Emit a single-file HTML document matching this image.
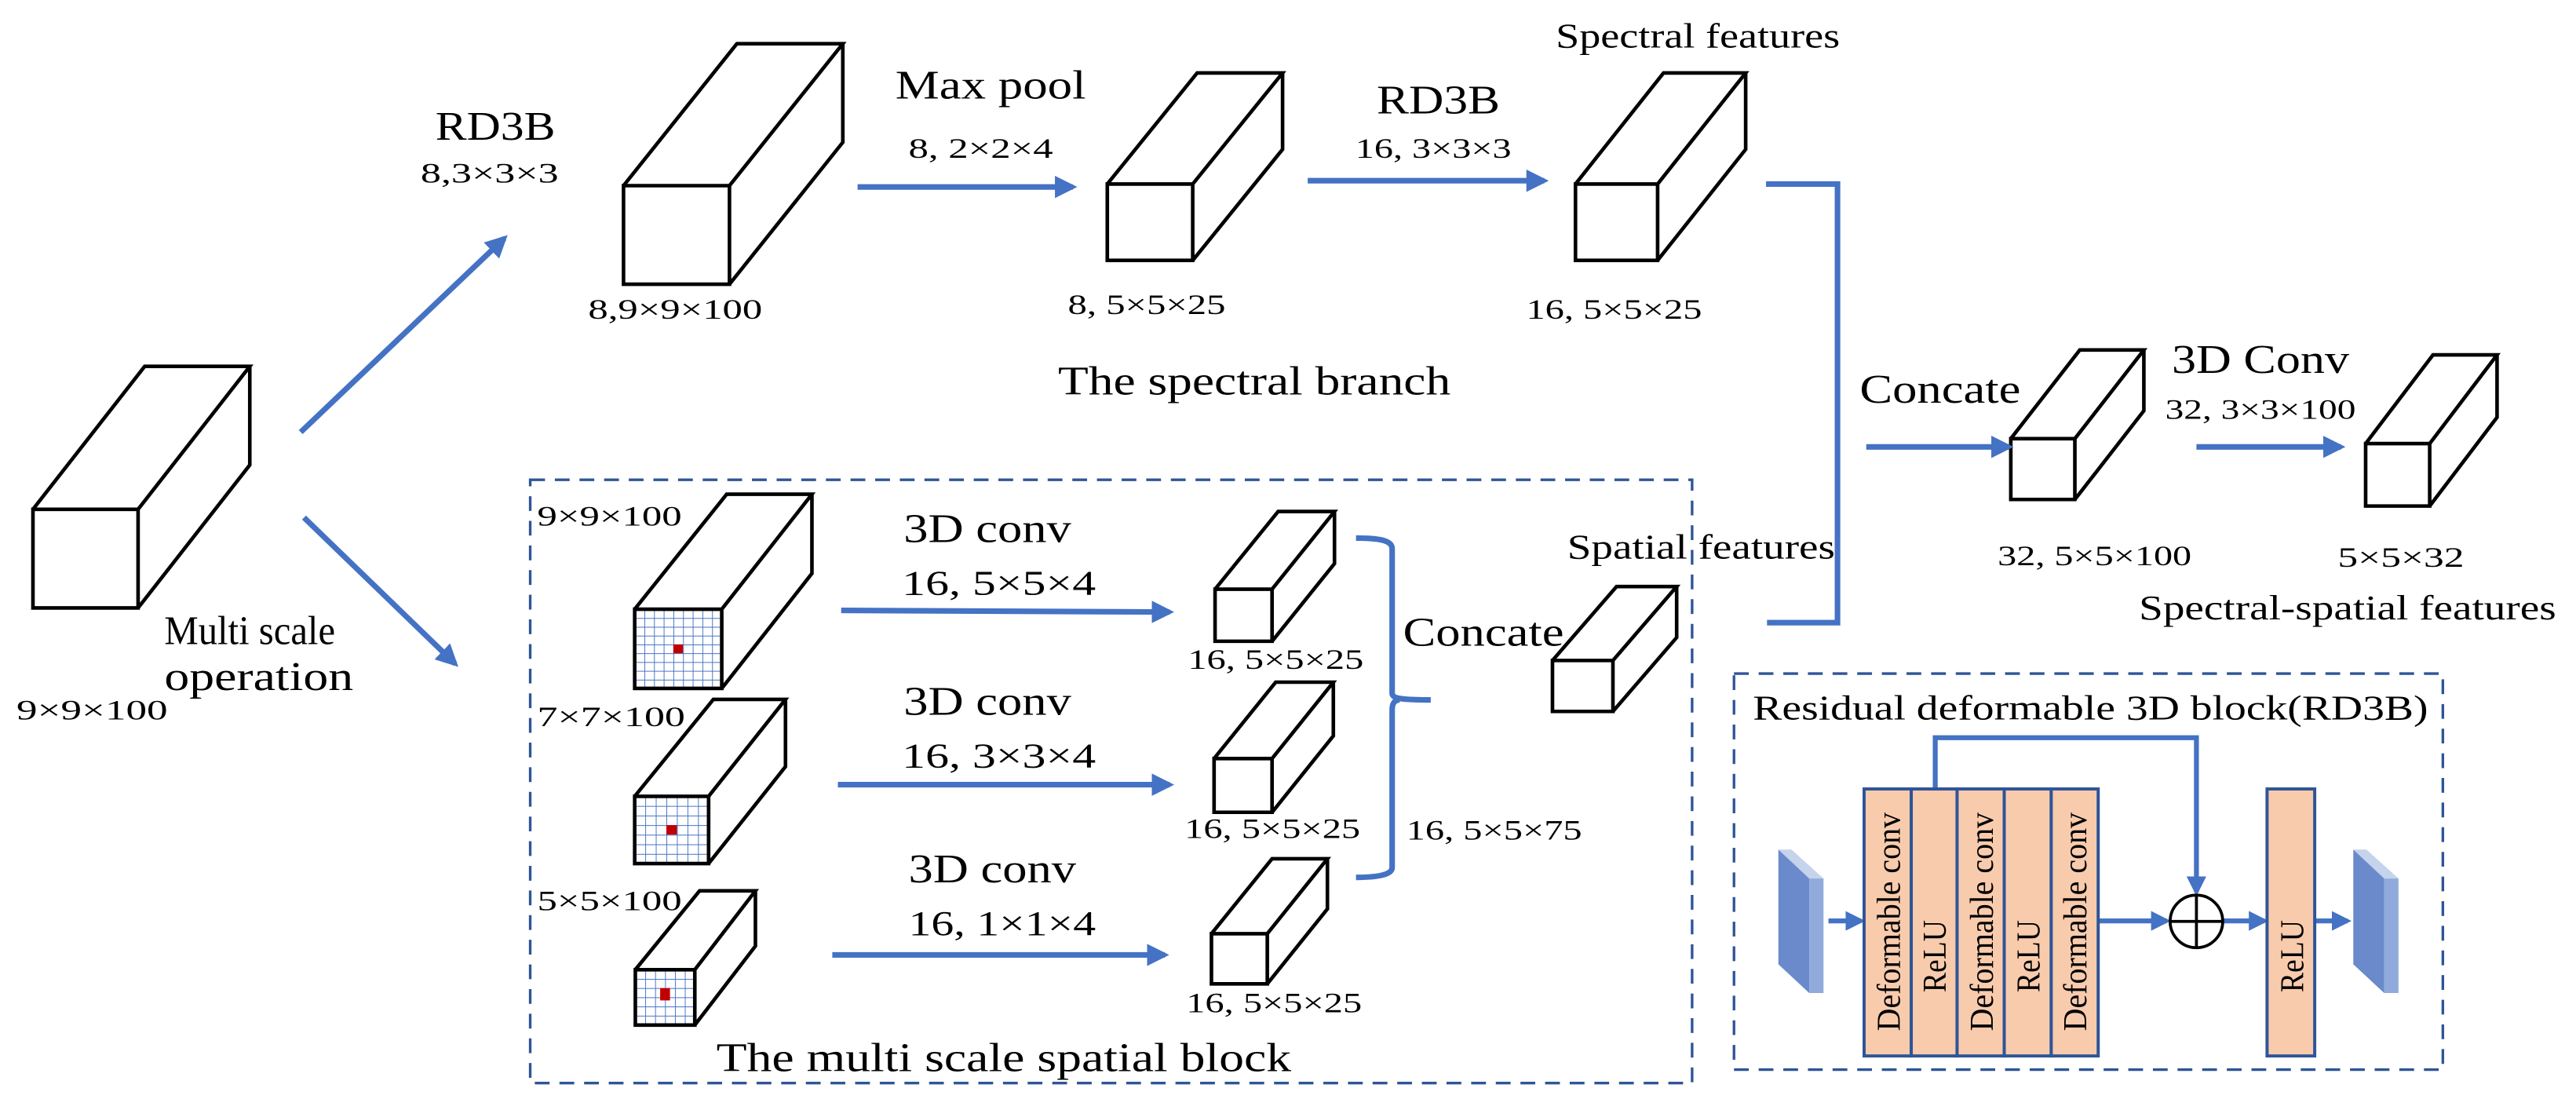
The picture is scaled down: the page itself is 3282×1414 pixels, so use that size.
<!DOCTYPE html>
<html><head><meta charset="utf-8"><style>
html,body{margin:0;padding:0;background:#fff;width:3282px;height:1414px;overflow:hidden}
svg{display:block}
svg text{font-family:"Liberation Serif","DejaVu Serif","Times New Roman",serif;fill:#000}
</style></head><body>
<svg width="3282" height="1414" viewBox="0 0 1568 675.6" xmlns="http://www.w3.org/2000/svg" font-family="Liberation Serif, DejaVu Serif, serif">
<defs>
<marker id="ah" viewBox="0 0 10 10" refX="8" refY="5" markerWidth="4" markerHeight="4" orient="auto" markerUnits="strokeWidth">
<path d="M0,0 L10,5 L0,10 Z" fill="#4472C4"/></marker>
<pattern id="g9" x="386.3" y="370.8" width="5.89" height="5.36" patternUnits="userSpaceOnUse"><path d="M0,0 V5.36 M0,0 H5.89" stroke="#4472C4" stroke-width="0.9" fill="none"/></pattern>
<pattern id="g7" x="386.3" y="484.7" width="6.43" height="5.84" patternUnits="userSpaceOnUse"><path d="M0,0 V5.84 M0,0 H6.43" stroke="#4472C4" stroke-width="0.9" fill="none"/></pattern>
<pattern id="g5" x="386.7" y="590.2" width="6.03" height="5.6" patternUnits="userSpaceOnUse"><path d="M0,0 V5.6 M0,0 H6.03" stroke="#4472C4" stroke-width="0.9" fill="none"/></pattern>
</defs>

<g fill="none" stroke="#000" stroke-width="2.2" stroke-linejoin="miter">
<path d="M20,310H84V370H20Z M20,310L88,223H152L84,310 M152,223V283L84,370"/>
<path d="M379.5,113H444V173H379.5Z M379.5,113L448.5,26.6H513L444,113 M513,26.6V86.6L444,173"/>
<path d="M674,112H726V158.5H674Z M674,112L728.7,44.4H780.7L726,112 M780.7,44.4V90.9L726,158.5"/>
<path d="M959,112H1009V158.5H959Z M959,112L1012.6,44.4H1062.6L1009,112 M1062.6,44.4V90.9L1009,158.5"/>
<path d="M945,402H981.8V433H945Z M945,402L984,357H1020.6L981.8,402 M1020.6,357V388L981.8,433"/>
<path d="M1224,267H1263V304H1224Z M1224,267L1266,213H1305L1263,267 M1305,213V250L1263,304"/>
<path d="M1440,270H1479V308H1440Z M1440,270L1481,216H1520L1479,270 M1520,216V254L1479,308"/>
<path d="M739.6,358.6H774.3V390.3H739.6Z M739.6,358.6L778,311.3H812.3L774.3,358.6 M812.3,311.3V343L774.3,390.3"/>
<path d="M739,461.7H774.3V494.4H739Z M739,461.7L776.5,415.2H811.6L774.3,461.7 M811.6,415.2V447.9L774.3,494.4"/>
<path d="M737.4,568.3H771.4V598.8H737.4Z M737.4,568.3L774.3,522.7H808L771.4,568.3 M808,522.7V553.2L771.4,598.8"/>
</g>
<rect x="386.3" y="370.8" width="53" height="48.2" fill="url(#g9)"/>
<rect x="409.8" y="392.2" width="5.9" height="5.4" fill="#c00000"/>
<rect x="386.3" y="484.7" width="45" height="40.9" fill="url(#g7)"/>
<rect x="405.6" y="502.2" width="6.4" height="5.8" fill="#c00000"/>
<rect x="386.7" y="590.2" width="36.2" height="33.7" fill="url(#g5)"/>
<rect x="401.8" y="601.4" width="6" height="7.5" fill="#c00000"/>
<g fill="none" stroke="#000" stroke-width="2.2">
<path d="M386.3,370.8H439.3V419H386.3Z M386.3,370.8L442.3,300.8H494.2L439.3,370.8 M494.2,300.8V349L439.3,419"/>
<path d="M386.3,484.7H431.3V525.6H386.3Z M386.3,484.7L434.2,425.7H478.1L431.3,484.7 M478.1,425.7V466.6L431.3,525.6"/>
<path d="M386.7,590.2H422.9V623.9H386.7Z M386.7,590.2L425.8,542.2H459.8L422.9,590.2 M459.8,542.2V575.8L422.9,623.9"/>
</g>

<rect x="322.7" y="292" width="707.3" height="367.2" fill="none" stroke="#2f5597" stroke-width="1.6" stroke-dasharray="9,6"/>
<rect x="1055.5" y="410" width="431.5" height="241" fill="none" stroke="#2f5597" stroke-width="1.6" stroke-dasharray="9,6"/>

<g stroke="#4472C4" stroke-width="3.4" fill="none" marker-end="url(#ah)">
<line x1="183" y1="263" x2="307" y2="145"/>
<line x1="185" y1="315" x2="277" y2="404"/>
<line x1="522" y1="113.8" x2="653" y2="113.8"/>
<line x1="796" y1="110" x2="940" y2="110"/>
<line x1="512" y1="371.5" x2="712" y2="372.5"/>
<line x1="510" y1="477.6" x2="712" y2="477.6"/>
<line x1="506.6" y1="581.2" x2="709" y2="581.2"/>
<line x1="1136" y1="272" x2="1223" y2="272"/>
<line x1="1337" y1="272" x2="1425" y2="272"/>
<line x1="1113" y1="560.5" x2="1133" y2="560.5" stroke-width="3"/>
<line x1="1277" y1="560.5" x2="1319" y2="560.5" stroke-width="3"/>
<line x1="1353.5" y1="560.5" x2="1378.5" y2="560.5" stroke-width="3"/>
<line x1="1409" y1="560.5" x2="1429" y2="560.5" stroke-width="3"/>
<path d="M1178,480V449H1337V543" stroke-width="3"/>
</g>
<g stroke="#4472C4" stroke-width="3.4" fill="none">
<path d="M1075,112H1118.5V379H1075.6"/>
<path d="M825.4,327.5C840,327.5 847.4,329 847.4,334V422C847.4,425 852,426 870.9,426 M852,426C849,426 847.4,428 847.4,432V528C847.4,532 840,534 825.4,534"/>
</g>

<g stroke="#2f5597" stroke-width="1.9" fill="#f8cbad">
<rect x="1134.7" y="480.2" width="28.7" height="162.5"/>
<rect x="1163.4" y="480.2" width="27.9" height="162.5"/>
<rect x="1191.3" y="480.2" width="28.7" height="162.5"/>
<rect x="1220" y="480.2" width="28.6" height="162.5"/>
<rect x="1248.6" y="480.2" width="28.6" height="162.5"/>
<rect x="1380" y="480.2" width="29" height="162.5"/>
</g>
<circle cx="1337" cy="560.8" r="16" fill="none" stroke="#000" stroke-width="1.8"/>
<path d="M1321,560.8H1353M1337,544.8V576.8" stroke="#000" stroke-width="1.8"/>
<polygon points="1082.5,517.1 1090.5,517.1 1110,534.7 1101.3,534.7" fill="#c5d3ec"/>
<polygon points="1082.5,517.1 1101.3,534.7 1101.3,604.4 1082.5,586.9" fill="#6a8acb"/>
<rect x="1101.3" y="534.7" width="8.7" height="69.7" fill="#90aadb"/>
<polygon points="1432.5,517.1 1440.5,517.1 1460,534.7 1451.3,534.7" fill="#c5d3ec"/>
<polygon points="1432.5,517.1 1451.3,534.7 1451.3,604.4 1432.5,586.9" fill="#6a8acb"/>
<rect x="1451.3" y="534.7" width="8.7" height="69.7" fill="#90aadb"/>

<g font-size="20" font-family="Liberation Serif, DejaVu Serif, serif">
<text transform="translate(1156.5,627.5) rotate(-90)" textLength="133" lengthAdjust="spacingAndGlyphs">Deformable conv</text>
<text transform="translate(1184.5,604) rotate(-90)" textLength="44" lengthAdjust="spacingAndGlyphs">ReLU</text>
<text transform="translate(1213,627.5) rotate(-90)" textLength="133" lengthAdjust="spacingAndGlyphs">Deformable conv</text>
<text transform="translate(1241.5,604) rotate(-90)" textLength="44" lengthAdjust="spacingAndGlyphs">ReLU</text>
<text transform="translate(1270,627.5) rotate(-90)" textLength="133" lengthAdjust="spacingAndGlyphs">Deformable conv</text>
<text transform="translate(1402,604) rotate(-90)" textLength="44" lengthAdjust="spacingAndGlyphs">ReLU</text>
</g>

<g font-size="25" font-family="Liberation Serif, DejaVu Serif, serif">
<text x="100" y="392" textLength="104" lengthAdjust="spacingAndGlyphs">Multi scale</text>
<text x="100" y="420" textLength="115" lengthAdjust="spacingAndGlyphs">operation</text>
<text x="265" y="85" textLength="73" lengthAdjust="spacingAndGlyphs">RD3B</text>
<text x="545" y="60" textLength="116" lengthAdjust="spacingAndGlyphs">Max pool</text>
<text x="838" y="69" textLength="75" lengthAdjust="spacingAndGlyphs">RD3B</text>
<text x="644" y="240" textLength="239" lengthAdjust="spacingAndGlyphs">The spectral branch</text>
<text x="550" y="330" textLength="102" lengthAdjust="spacingAndGlyphs">3D conv</text>
<text x="550" y="435" textLength="102" lengthAdjust="spacingAndGlyphs">3D conv</text>
<text x="553" y="537" textLength="102" lengthAdjust="spacingAndGlyphs">3D conv</text>
<text x="854" y="393" textLength="98" lengthAdjust="spacingAndGlyphs">Concate</text>
<text x="1132" y="245" textLength="98" lengthAdjust="spacingAndGlyphs">Concate</text>
<text x="1322" y="227" textLength="108" lengthAdjust="spacingAndGlyphs">3D Conv</text>
<text x="436" y="652" textLength="350" lengthAdjust="spacingAndGlyphs">The multi scale spatial block</text>
</g>
<g font-size="21" font-family="Liberation Serif, DejaVu Serif, serif">
<text x="549" y="362" textLength="118" lengthAdjust="spacingAndGlyphs">16, 5×5×4</text>
<text x="549" y="467" textLength="118" lengthAdjust="spacingAndGlyphs">16, 3×3×4</text>
<text x="553" y="569" textLength="114" lengthAdjust="spacingAndGlyphs">16, 1×1×4</text>
<text x="947" y="29" textLength="173" lengthAdjust="spacingAndGlyphs">Spectral features</text>
<text x="954" y="340" textLength="163" lengthAdjust="spacingAndGlyphs">Spatial features</text>
<text x="1302" y="377" textLength="254" lengthAdjust="spacingAndGlyphs">Spectral-spatial features</text>
<text x="1067" y="438" textLength="411" lengthAdjust="spacingAndGlyphs">Residual deformable 3D block(RD3B)</text>
</g>
<g font-size="17" font-family="Liberation Serif, DejaVu Serif, serif">
<text x="10" y="438" textLength="92" lengthAdjust="spacingAndGlyphs">9×9×100</text>
<text x="256" y="111" textLength="84" lengthAdjust="spacingAndGlyphs">8,3×3×3</text>
<text x="358" y="194" textLength="106" lengthAdjust="spacingAndGlyphs">8,9×9×100</text>
<text x="553" y="96" textLength="88" lengthAdjust="spacingAndGlyphs">8, 2×2×4</text>
<text x="650" y="191" textLength="96" lengthAdjust="spacingAndGlyphs">8, 5×5×25</text>
<text x="825" y="96" textLength="95" lengthAdjust="spacingAndGlyphs">16, 3×3×3</text>
<text x="929" y="194" textLength="107" lengthAdjust="spacingAndGlyphs">16, 5×5×25</text>
<text x="327" y="320" textLength="88" lengthAdjust="spacingAndGlyphs">9×9×100</text>
<text x="327" y="442" textLength="90" lengthAdjust="spacingAndGlyphs">7×7×100</text>
<text x="327" y="554" textLength="88" lengthAdjust="spacingAndGlyphs">5×5×100</text>
<text x="723" y="407" textLength="107" lengthAdjust="spacingAndGlyphs">16, 5×5×25</text>
<text x="721" y="510" textLength="107" lengthAdjust="spacingAndGlyphs">16, 5×5×25</text>
<text x="722" y="616" textLength="107" lengthAdjust="spacingAndGlyphs">16, 5×5×25</text>
<text x="856" y="511" textLength="107" lengthAdjust="spacingAndGlyphs">16, 5×5×75</text>
<text x="1216" y="344" textLength="118" lengthAdjust="spacingAndGlyphs">32, 5×5×100</text>
<text x="1318" y="255" textLength="116" lengthAdjust="spacingAndGlyphs">32, 3×3×100</text>
<text x="1423" y="345" textLength="77" lengthAdjust="spacingAndGlyphs">5×5×32</text>
</g>
</svg>
</body></html>
